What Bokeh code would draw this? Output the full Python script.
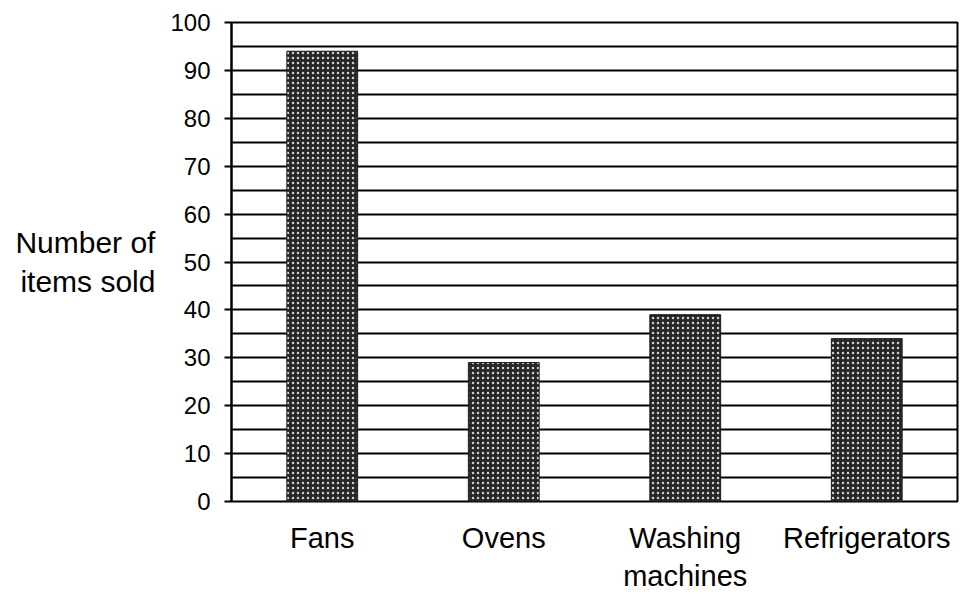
from bokeh.plotting import figure
from bokeh.models import Range1d, FixedTicker, ColumnDataSource
from bokeh.embed import file_html
from bokeh.resources import INLINE

# ---- data ----
categories = ["Fans", "Ovens", "Washing\nmachines", "Refrigerators"]
items_sold = [94, 29, 39, 34]
y_tick_labels = [0, 10, 20, 30, 40, 50, 60, 70, 80, 90, 100]
grid_values = [0, 5, 10, 15, 20, 25, 30, 35, 40, 45, 50, 55, 60, 65, 70, 75, 80, 85, 90, 95, 100]

positions = list(range(len(categories)))
source = ColumnDataSource(dict(x=positions, top=items_sold))

p = figure(width=960, height=600, output_backend="svg", toolbar_location=None,
           x_range=Range1d(-0.5, len(categories) - 0.5), y_range=Range1d(0, 100),
           min_border_left=231, min_border_right=3, min_border_top=22, min_border_bottom=99)

p.vbar(x="x", top="top", width=0.39, bottom=0, source=source,
       fill_color="#262626", line_color="#1a1a1a", line_width=1,
       hatch_pattern="dot", hatch_color="#cfcfcf", hatch_scale=5, hatch_weight=1)

p.outline_line_color = "black"
p.outline_line_width = 2
p.background_fill_color = "white"
p.border_fill_color = "white"

p.xgrid.visible = False
p.ygrid.ticker = FixedTicker(ticks=grid_values)
p.ygrid.grid_line_color = "black"
p.ygrid.grid_line_width = 2

ya = p.yaxis[0]
ya.ticker = FixedTicker(ticks=y_tick_labels)
ya.axis_line_color = "black"
ya.axis_line_width = 2
ya.major_tick_line_color = "black"
ya.major_tick_line_width = 2
ya.major_tick_out = 7
ya.major_tick_in = 0
ya.minor_tick_line_color = None
ya.major_label_text_font = "Liberation Sans"
ya.major_label_text_font_size = "24px"
ya.major_label_text_color = "black"
ya.major_label_standoff = 14
ya.axis_label = "Number of\nitems sold"
ya.axis_label_orientation = "horizontal"
ya.axis_label_text_font = "Liberation Sans"
ya.axis_label_text_font_size = "30px"
ya.axis_label_text_font_style = "normal"
ya.axis_label_text_color = "black"
ya.axis_label_standoff = 12

xa = p.xaxis[0]
xa.ticker = FixedTicker(ticks=positions)
xa.major_label_overrides = {i: c for i, c in zip(positions, categories)}
xa.axis_line_color = None
xa.major_tick_line_color = None
xa.minor_tick_line_color = None
xa.major_label_text_font = "Liberation Sans"
xa.major_label_text_font_size = "29px"
xa.major_label_text_color = "black"
xa.major_label_standoff = 14

open("out.html", "w").write(file_html(p, INLINE))
